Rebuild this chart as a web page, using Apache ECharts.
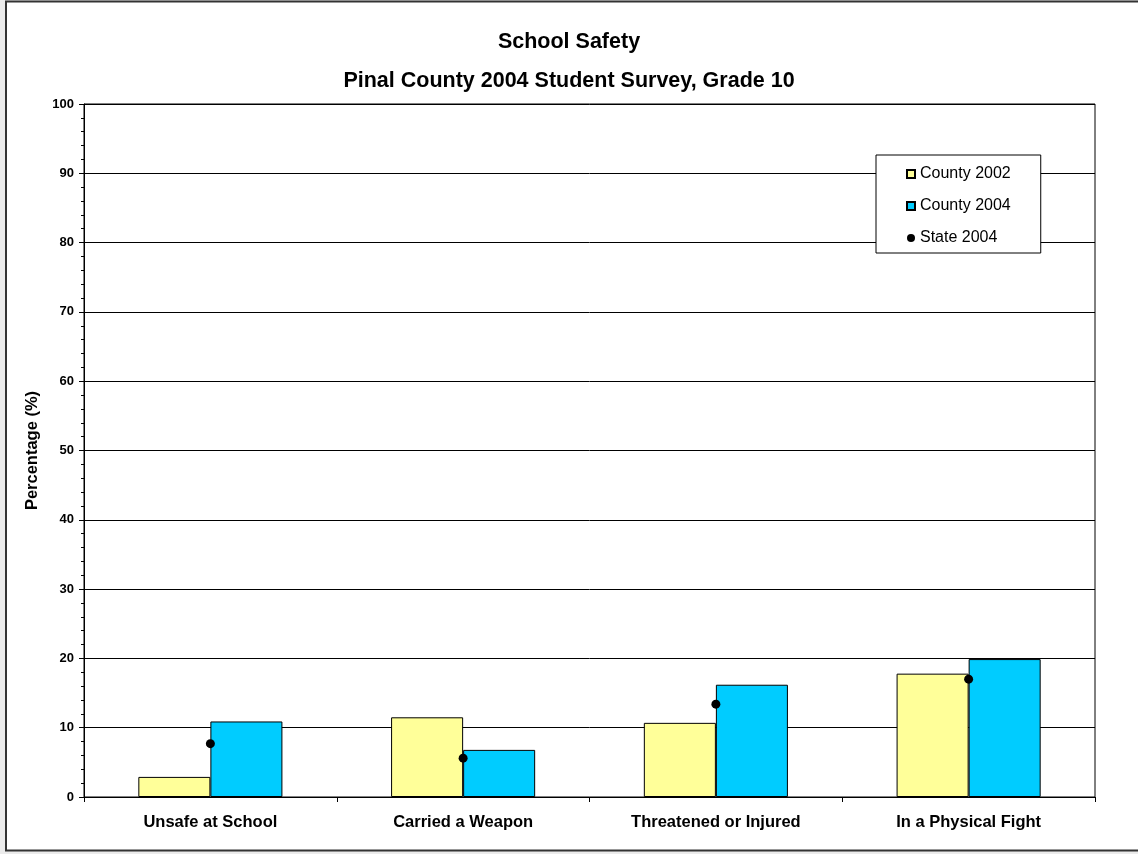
<!DOCTYPE html>
<html>
<head>
<meta charset="utf-8">
<script src="https://cdn.jsdelivr.net/npm/echarts@6/dist/echarts.min.js"></script>
<style>
html,body{margin:0;padding:0;background:#ebebeb;}
#chart{width:1138px;height:854px;}
</style>
</head>
<body>
<div id="chart"></div>
<script>
var categories = ['Unsafe at School', 'Carried a Weapon', 'Threatened or Injured', 'In a Physical Fight'];
var county2002 = [2.9, 11.5, 10.7, 17.8];
var county2004 = [10.9, 6.8, 16.2, 19.9];
var state2004 = [7.7, 5.6, 13.4, 17.0];
var seriesNames = ['County 2002', 'County 2004', 'State 2004'];

var FONT = '"Liberation Sans", Arial, sans-serif';
var chart = echarts.init(document.getElementById('chart'));
chart.setOption({
  backgroundColor: '#ebebeb',
  animation: false,
  textStyle: { fontFamily: FONT },
  graphic: [{
    type: 'rect', z: -10,
    shape: { x: 6, y: 1.5, width: 1140, height: 849 },
    style: { fill: '#ffffff', stroke: '#333333', lineWidth: 2 }
  }],
  title: [
    { text: 'School Safety', left: 'center', top: 26,
      textStyle: { fontFamily: FONT, fontSize: 21.5, fontWeight: 'bold', color: '#000' } },
    { text: 'Pinal County 2004 Student Survey, Grade 10', left: 'center', top: 65,
      textStyle: { fontFamily: FONT, fontSize: 21.5, fontWeight: 'bold', color: '#000' } }
  ],
  legend: {
    orient: 'vertical',
    left: 876, top: 155,
    data: [
      { name: seriesNames[0], icon: 'rect' },
      { name: seriesNames[1], icon: 'rect' },
      { name: seriesNames[2], icon: 'circle' }
    ],
    backgroundColor: '#fff',
    borderColor: '#000', borderWidth: 1,
    padding: [11, 30, 7, 30],
    itemWidth: 8, itemHeight: 8, itemGap: 16,
    textStyle: { fontFamily: FONT, fontSize: 16, color: '#000' }
  },
  grid: { left: 84, right: 43, top: 104, bottom: 57, show: true, borderColor: '#000', borderWidth: 1, z: 0 },
  xAxis: {
    type: 'category', data: categories,
    axisLine: { lineStyle: { color: '#000', width: 1 } },
    axisTick: { show: true, alignWithLabel: false, length: 5, lineStyle: { color: '#000' } },
    axisLabel: { fontFamily: FONT, fontSize: 16.5, fontWeight: 'bold', color: '#000', margin: 17 }
  },
  yAxis: {
    type: 'value', min: 0, max: 100, interval: 10,
    name: 'Percentage (%)', nameLocation: 'middle', nameGap: 41, nameRotate: 90,
    nameTextStyle: { fontFamily: FONT, fontSize: 16.5, fontWeight: 'bold', color: '#000' },
    axisLine: { show: true, lineStyle: { color: '#000', width: 1 } },
    axisTick: { show: true, length: 5, lineStyle: { color: '#000' } },
    minorTick: { show: true, splitNumber: 5, length: 3, lineStyle: { color: '#000' } },
    axisLabel: { fontFamily: FONT, fontSize: 13, fontWeight: 'bold', color: '#000', margin: 10 },
    splitLine: { show: true, lineStyle: { color: '#000', width: 1 } }
  },
  series: [
    { name: seriesNames[0], type: 'bar', data: county2002, barGap: '0%', barCategoryGap: '43%',
      itemStyle: { color: '#FFFF99', borderColor: '#000', borderWidth: 1 } },
    { name: seriesNames[1], type: 'bar', data: county2004, barGap: '0%', barCategoryGap: '43%',
      itemStyle: { color: '#00CCFF', borderColor: '#000', borderWidth: 1 } },
    { name: seriesNames[2], type: 'scatter', data: state2004, symbol: 'circle', symbolSize: 9, z: 5,
      itemStyle: { color: '#000', opacity: 1 } }
  ]
});
</script>
</body>
</html>
